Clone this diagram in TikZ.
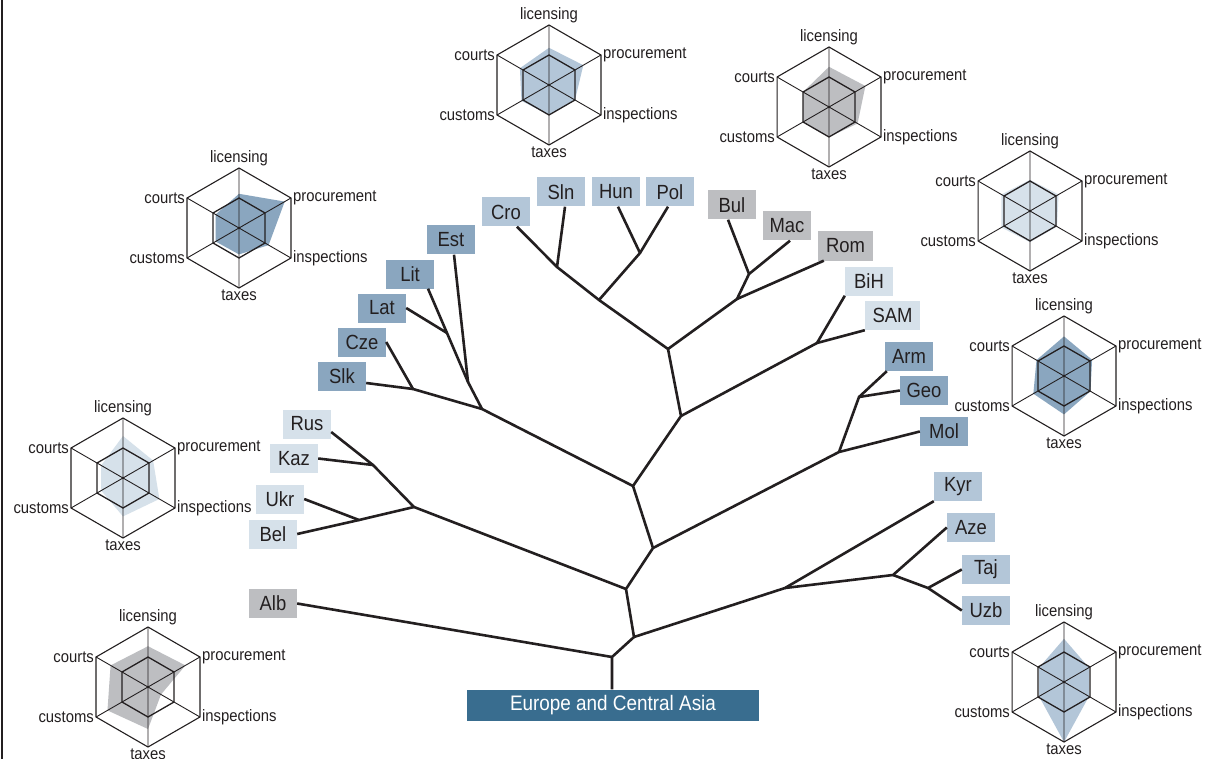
\documentclass[tikz,border=0pt]{standalone}
\usepackage{fontspec}
\setmainfont{Liberation Sans}[FakeStretch=0.9]
\definecolor{ink}{HTML}{231F20}
\definecolor{cDark}{HTML}{8AA6BF}
\definecolor{cLight}{HTML}{B3C6D8}
\definecolor{cPale}{HTML}{D6E1EA}
\definecolor{cGrey}{HTML}{BDBEC1}
\definecolor{cEur}{HTML}{396D8F}
\def\RR{60pt}
\newcommand\radarchart[9]{% #1 name, #2 centre, #3 colour, #4..#9 licensing, procurement, inspections, taxes, customs, courts
  \begin{scope}[shift={#2}]
    \fill[#3] (90:#4*\RR) -- (30:#5*\RR) -- (-30:#6*\RR) -- (-90:#7*\RR) -- (-150:#8*\RR) -- (150:#9*\RR) -- cycle;
    \draw[hexout] (90:\RR) -- (30:\RR) -- (-30:\RR) -- (-90:\RR) -- (-150:\RR) -- (150:\RR) -- cycle;
    \draw[hexin] (90:0.5*\RR) -- (30:0.5*\RR) -- (-30:0.5*\RR) -- (-90:0.5*\RR) -- (-150:0.5*\RR) -- (150:0.5*\RR) -- cycle;
    \draw[spoke] (90:\RR) -- (-90:\RR) (30:\RR) -- (-150:\RR) (150:\RR) -- (-30:\RR);
    \node[rlab, anchor=south] (#1lic) at (90:\RR) {licensing};
    \node[rlab, anchor=west] (#1pro) at (30:\RR) {procurement};
    \node[rlab, anchor=west] (#1ins) at (-30:\RR) {inspections};
    \node[rlab, anchor=north] (#1tax) at (-90:\RR) {taxes};
    \node[rlab, anchor=east] (#1cus) at (-150:\RR) {customs};
    \node[rlab, anchor=east] (#1crt) at (150:\RR) {courts};
  \end{scope}}
\begin{document}
\begin{tikzpicture}[x=1pt,y=-1pt,
  hexout/.style={draw=ink, line width=1.1pt, line join=miter},
  hexin/.style={draw=ink, line width=1.3pt, line join=miter},
  spoke/.style={draw=ink, line width=0.9pt},
  rlab/.style={text=ink, inner sep=2pt, font=\fontsize{16.5}{17}\selectfont},
  lbl/.style={minimum width=48pt, minimum height=29pt, inner sep=0pt, text=ink, font=\fontsize{20.5}{21}\selectfont},
  dk/.style={lbl, fill=cDark},
  lt/.style={lbl, fill=cLight},
  pl/.style={lbl, fill=cPale},
  gy/.style={lbl, fill=cGrey},
  edge/.style={draw=ink, line width=2.6pt, line join=round}]
\useasboundingbox (0,0) rectangle (1217,759);
\fill[white] (0,0) rectangle (1217,759);
\draw[ink, line width=1.5pt] (2,0) -- (2,759);

% radar charts
\radarchart{ra}{(549,85)}{cLight}{0.62}{0.66}{0.5}{0.5}{0.53}{0.56}
\radarchart{rb}{(829,107)}{cGrey}{0.67}{0.7}{0.55}{0.5}{0.5}{0.5}
\radarchart{rc}{(239,228)}{cDark}{0.57}{0.88}{0.57}{0.44}{0.45}{0.45}
\radarchart{rd}{(123,478)}{cPale}{0.7}{0.58}{0.7}{0.64}{0.42}{0.42}
\radarchart{re}{(148,687)}{cGrey}{0.68}{0.72}{0.25}{0.7}{0.78}{0.72}
\radarchart{rf}{(1030,211)}{cPale}{0.52}{0.55}{0.52}{0.52}{0.55}{0.55}
\radarchart{rg}{(1064,376)}{cDark}{0.66}{0.54}{0.51}{0.64}{0.59}{0.53}
\radarchart{rh}{(1064,682)}{cLight}{0.72}{0.48}{0.48}{1.0}{0.48}{0.48}

% leaf labels
\node[lt] (Cro) at (506,212) {Cro};
\node[lt] (Sln) at (561,192) {Sln};
\node[lt] (Hun) at (616,192) {Hun};
\node[lt] (Pol) at (670,192) {Pol};
\node[dk] (Est) at (451,240) {Est};
\node[dk] (Lit) at (410,274) {Lit};
\node[dk] (Lat) at (382,308) {Lat};
\node[dk] (Cze) at (362,342) {Cze};
\node[dk] (Slk) at (342,376) {Slk};
\node[gy] (Bul) at (732,205) {Bul};
\node[gy] (Mac) at (787,226) {Mac};
\node[gy, minimum width=55pt] (Rom) at (845.5,246) {Rom};
\node[pl] (BiH) at (869,281) {BiH};
\node[pl, minimum width=55pt] (SAM) at (892.5,315.5) {SAM};
\node[dk] (Arm) at (909,356.5) {Arm};
\node[dk] (Geo) at (924,390.5) {Geo};
\node[dk] (Mol) at (944,431.5) {Mol};
\node[lt] (Kyr) at (958,486.5) {Kyr};
\node[lt] (Aze) at (971,527.5) {Aze};
\node[lt] (Taj) at (986,569.5) {Taj};
\node[lt] (Uzb) at (986,610.5) {Uzb};
\node[pl] (Rus) at (307,424) {Rus};
\node[pl] (Kaz) at (294,458.5) {Kaz};
\node[pl] (Ukr) at (280,499) {Ukr};
\node[pl] (Bel) at (273,534) {Bel};
\node[gy] (Alb) at (273,603.5) {Alb};
\node[fill=cEur, text=white, minimum width=292pt, minimum height=31pt, inner sep=0pt,
      font=\fontsize{21}{21}\selectfont] (Eur) at (613,705) {Europe and Central Asia};

% junctions
\coordinate (jcs) at (557,267);
\coordinate (jhp) at (640,253);
\coordinate (jcshp) at (599,300);
\coordinate (jA) at (668,349);
\coordinate (jbm) at (749,274);
\coordinate (jbmr) at (737,299);
\coordinate (jB) at (681,416);
\coordinate (jbs) at (817,343);
\coordinate (jLL) at (447,333);
\coordinate (jE) at (468,382);
\coordinate (jcs2) at (413,389);
\coordinate (jbal) at (482,409);
\coordinate (jF) at (633,486);
\coordinate (jC) at (653,548);
\coordinate (jag) at (859,397);
\coordinate (jagm) at (839,452);
\coordinate (jrk) at (373,465);
\coordinate (jub) at (359,520);
\coordinate (jrg) at (414,507);
\coordinate (jG) at (626,589);
\coordinate (jD) at (634,637);
\coordinate (jroot) at (612,657);
\coordinate (jkyr) at (785,588);
\coordinate (jatu) at (893,575);
\coordinate (jtu) at (928,588);

% tree
\draw[edge] ([xshift=11pt]Cro.south) -- (jcs) -- (jcshp) -- (jA) -- (jB) -- (jF) -- (jC) -- (jG) -- (jD) -- (jroot) -- (Eur.north -| jroot);
\draw[edge] ([xshift=4pt]Sln.south) -- (jcs);
\draw[edge] ([xshift=2pt]Hun.south) -- (jhp) -- (jcshp);
\draw[edge] ([xshift=-2pt]Pol.south) -- (jhp);
\draw[edge] ([xshift=-4pt]Bul.south) -- (jbm) -- (jbmr) -- (jA);
\draw[edge] ([xshift=3pt]Mac.south) -- (jbm);
\draw[edge] ([xshift=6pt]Rom.south west) -- (jbmr);
\draw[edge] (BiH.south west) -- (jbs) -- (jB);
\draw[edge] (SAM.south west) -- (jbs);
\draw[edge] ([xshift=18pt]Lit.south) -- (jLL) -- (jE) -- (jbal) -- (jF);
\draw[edge] (Lat.east) -- (jLL);
\draw[edge] ([xshift=3pt]Est.south) -- (jE);
\draw[edge] (Cze.east) -- (jcs2) -- (jbal);
\draw[edge] ([yshift=-7pt]Slk.east) -- (jcs2);
\draw[edge] ([xshift=2pt]Arm.south west) -- (jag) -- (jagm) -- (jC);
\draw[edge] (Geo.west) -- (jag);
\draw[edge] (Mol.west) -- (jagm);
\draw[edge] ([yshift=-8pt]Rus.east) -- (jrk) -- (jrg) -- (jG);
\draw[edge] (Kaz.east) -- (jrk);
\draw[edge] (Ukr.east) -- (jub) -- (jrg);
\draw[edge] (Bel.east) -- (jub);
\draw[edge] (Kyr.south west) -- (jkyr) -- (jD);
\draw[edge] (Aze.west) -- (jatu) -- (jkyr);
\draw[edge] (Taj.west) -- (jtu) -- (jatu);
\draw[edge] (Uzb.west) -- (jtu);
\draw[edge] (Alb.east) -- (jroot);
\end{tikzpicture}
\end{document}
